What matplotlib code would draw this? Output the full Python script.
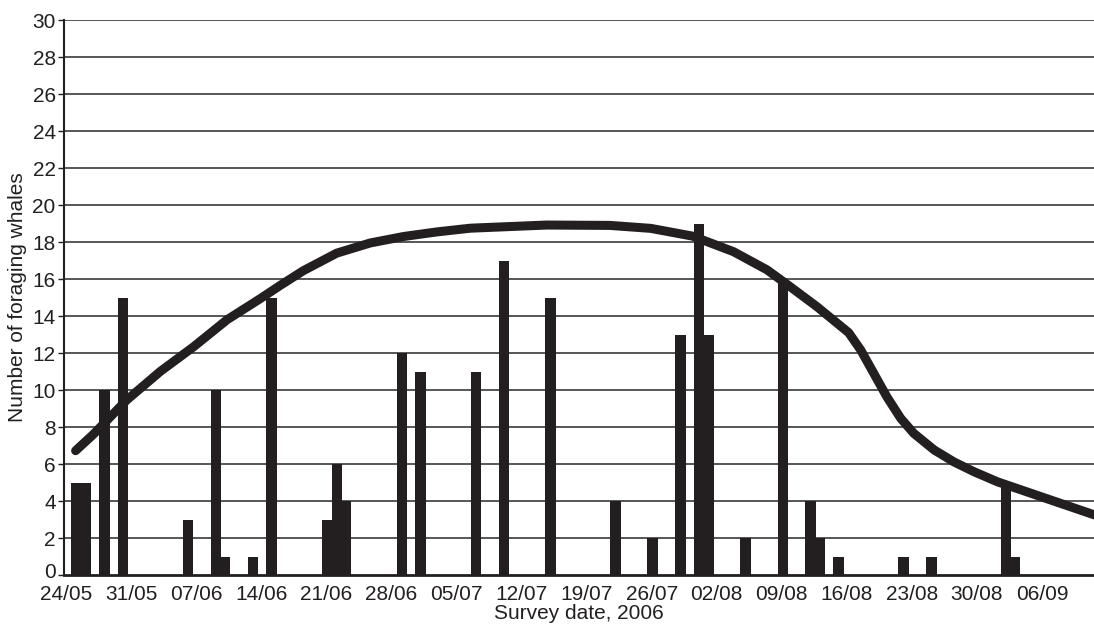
import numpy as np
import pandas as pd
import matplotlib.pyplot as plt
import matplotlib.transforms as mtransforms

plt.rcParams['font.family'] = ['Liberation Sans', 'DejaVu Sans']

start = pd.Timestamp('2006-05-24')

# survey dates and counts of foraging whales (bars)
survey_dates = ['25/05', '26/05', '28/05', '30/05', '06/06', '09/06', '10/06', '13/06',
                '15/06', '21/06', '22/06', '23/06', '29/06', '01/07', '07/07', '10/07',
                '15/07', '22/07', '26/07', '29/07', '31/07', '01/08', '05/08', '09/08',
                '12/08', '13/08', '15/08', '22/08', '25/08', '02/09', '03/09']
whales = [5, 5, 10, 15, 3, 10, 1, 1,
          15, 3, 6, 4, 12, 11, 11, 17,
          15, 4, 2, 13, 19, 13, 2, 16,
          4, 2, 1, 1, 1, 5, 1]

# fitted curve (days since 24/05, value)
curve_days = [1.0, 2.9, 6.5, 10.1, 13.7, 17.3, 20.9, 23.0, 25.5, 29.1, 32.7, 36.3,
              39.9, 43.5, 51.7, 58.5, 62.9, 67.4, 71.8, 75.4, 77.6, 80.8, 84.2,
              85.5, 86.9, 88.3, 89.8, 91.2, 93.4, 95.5, 97.7, 100.2, 104.8, 110.7]
curve_vals = [6.72, 7.6, 9.46, 11.0, 12.34, 13.8, 14.95, 15.65, 16.45, 17.4, 17.95, 18.3,
              18.55, 18.75, 18.92, 18.9, 18.74, 18.32, 17.48, 16.5, 15.7, 14.5, 13.1,
              12.16, 10.9, 9.64, 8.47, 7.66, 6.76, 6.12, 5.58, 5.04, 4.25, 3.24]

tick_labels = ['24/05', '31/05', '07/06', '14/06', '21/06', '28/06', '05/07', '12/07',
               '19/07', '26/07', '02/08', '09/08', '16/08', '23/08', '30/08', '06/09']


def day_of(s):
    d = pd.to_datetime(s + '/2006', format='%d/%m/%Y')
    return (d - start).days


bar_x = np.array([day_of(s) for s in survey_dates])
tick_x = [day_of(s) for s in tick_labels]

ink = '#231f20'

fig = plt.figure(figsize=(10.94, 6.28), dpi=100)
ax = fig.add_axes([0.0585, 0.0844, 0.9415, 0.8836])

for y in range(2, 31, 2):
    ax.axhline(y, color='#3a3a3a', lw=1.2, zorder=1)

ax.bar(bar_x + 0.1, whales, width=1.12, color=ink, zorder=2, linewidth=0)
ax.plot(curve_days, curve_vals, color=ink, lw=6.5, solid_capstyle='round',
        solid_joinstyle='round', zorder=3)

ax.set_xlim(-0.25, 110.6)
ax.set_ylim(0, 30)
ax.set_yticks(range(0, 31, 2))
ax.set_xticks(tick_x)
ax.set_xticklabels(tick_labels)
ax.tick_params(axis='x', length=0, pad=7, labelsize=15, colors=ink)
ax.tick_params(axis='y', length=4, width=1, pad=2, labelsize=15, colors=ink)

# nudge the "0" label up a touch so it sits just above the first date
lbl0 = ax.get_yticklabels()[0]
lbl0.set_transform(lbl0.get_transform() +
                   mtransforms.ScaledTranslation(0, 3 / 72, fig.dpi_scale_trans))

for side in ['top', 'right']:
    ax.spines[side].set_visible(False)
ax.spines['left'].set_linewidth(1.5)
ax.spines['left'].set_color(ink)
ax.spines['bottom'].set_linewidth(2)
ax.spines['bottom'].set_color(ink)

ax.set_xlabel('Survey date, 2006', fontsize=15, color=ink, labelpad=0)
ax.set_ylabel('Number of foraging whales', fontsize=15, color=ink, labelpad=4)

fig.savefig('out.png', dpi=100)
